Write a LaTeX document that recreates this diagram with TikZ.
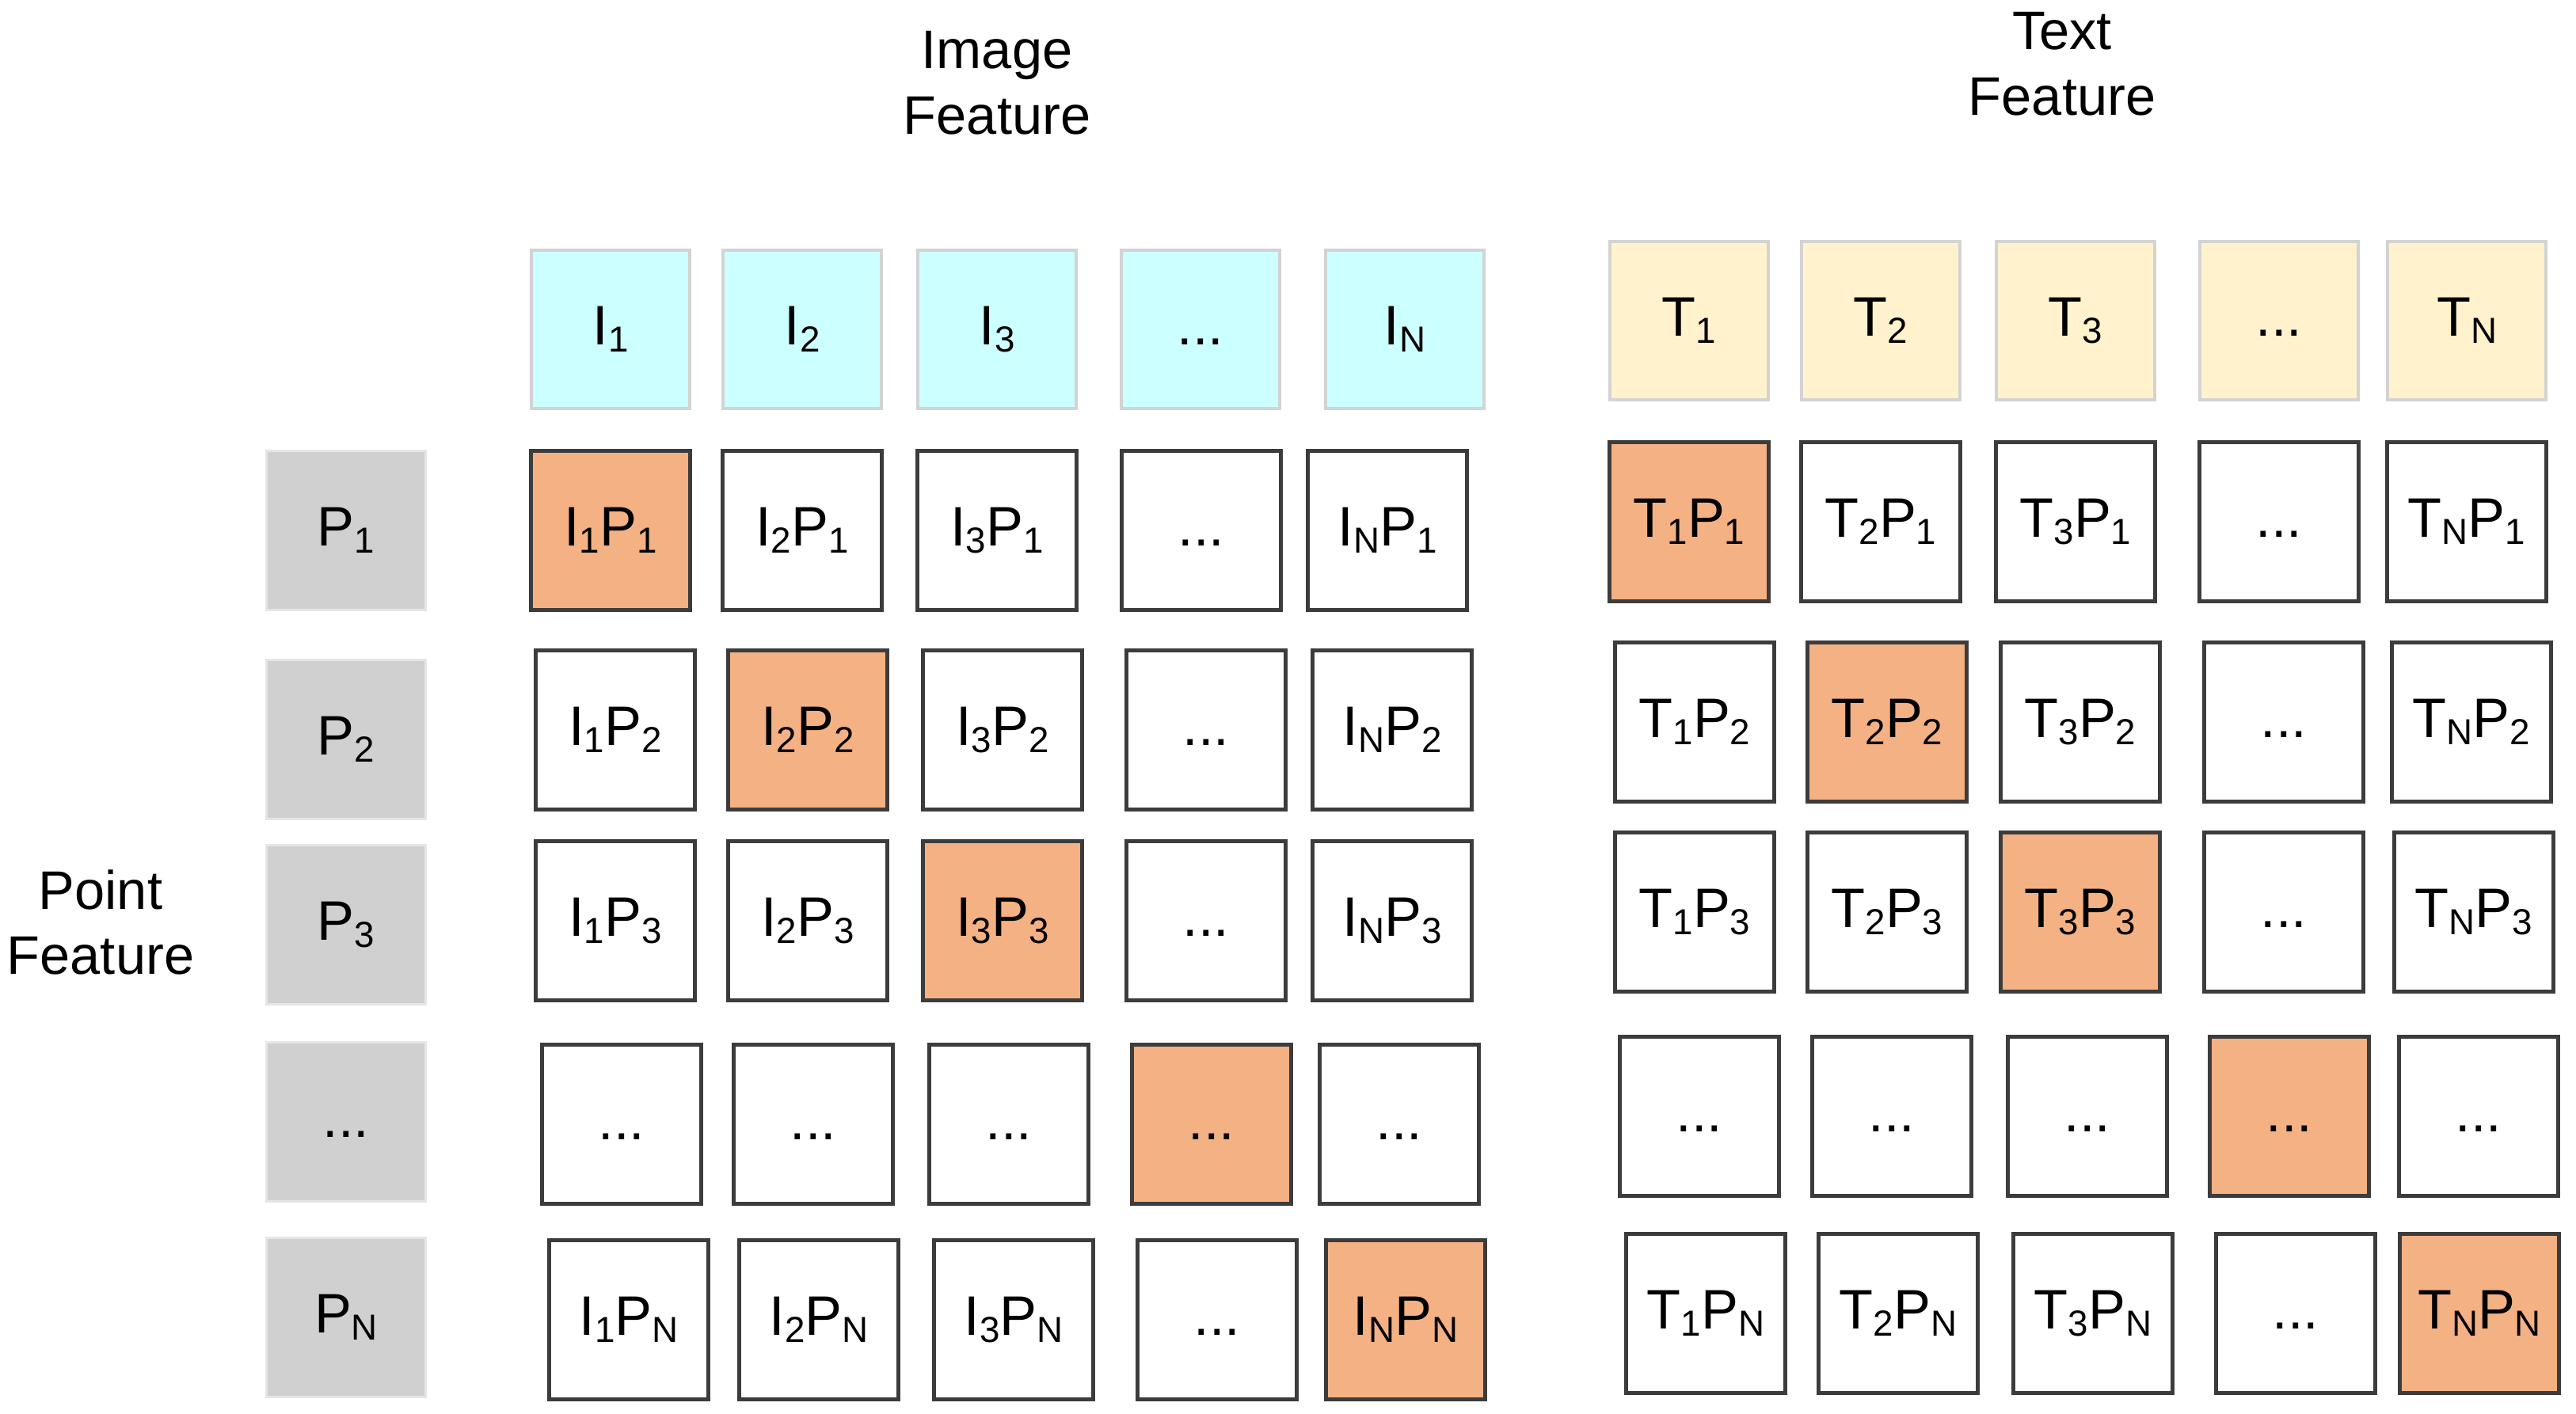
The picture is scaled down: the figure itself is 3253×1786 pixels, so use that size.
\documentclass[tikz,border=0pt]{standalone}
\usepackage{fontspec}
\setmainfont{Liberation Sans}
\definecolor{hdrcyan}{HTML}{CCFFFF}
\definecolor{hdryel}{HTML}{FFF2CC}
\definecolor{pgray}{HTML}{D0D0D0}
\definecolor{cellor}{HTML}{F4B183}
\definecolor{hdrline}{HTML}{D3D3D3}
\definecolor{pline}{HTML}{E6E6E6}
\definecolor{cellline}{HTML}{3C3C3C}
\newcommand\sbx[1]{\raisebox{-0.09cm}{\fontsize{13}{13}\selectfont #1}}
\newcommand\lab[1]{\ifcase#1\or 1\or 2\or 3\or\or N\fi}
\newcommand\dts{\vphantom{I\sbx{1}}...}
\begin{document}
\begin{tikzpicture}[x=0.01cm,y=-0.01cm,
  box/.style={minimum width=2.0cm, minimum height=2.0cm, inner sep=0pt, font=\fontsize{20}{23}\selectfont},
  ihdr/.style={box, fill=hdrcyan, draw=hdrline, line width=0.04cm},
  thdr/.style={box, fill=hdryel, draw=hdrline, line width=0.04cm},
  pbox/.style={box, fill=pgray, draw=pline, line width=0.03cm},
  cell/.style={box, draw=cellline, line width=0.05cm},
  lbl/.style={align=center, inner sep=0pt, font=\fontsize{19.5}{23.5}\selectfont}]
\path[use as bounding box] (0,0) rectangle (3253,1786);

% titles
\node[lbl] (imgf) at (1259,105) {Image\\Feature};
\node[lbl] (txtf) at (2604,81) {Text\\Feature};
\node[lbl] (ptf) at (127,1165) {Point\\Feature};

% image header
\foreach \c/\x in {1/771,2/1013,3/1259,4/1516,5/1774}{
  \node[ihdr] (i\c) at (\x,416) {\ifnum\c=4 \dts\else I\sbx{\lab\c}\fi};
}
% text header
\foreach \c/\x in {1/2133,2/2375,3/2621,4/2878,5/3115}{
  \node[thdr] (t\c) at (\x,405) {\ifnum\c=4 \dts\else T\sbx{\lab\c}\fi};
}
% point column
\foreach \r/\y in {1/670,2/934,3/1168,4/1417,5/1664}{
  \node[pbox] (p\r) at (437,\y) {\ifnum\r=4 \dts\else P\sbx{\lab\r}\fi};
}

% image x point matrix
\foreach \r/\y/\xa/\xb/\xc/\xd/\xe in {
  1/670/771/1013/1259/1517/1752,
  2/922/777/1020/1266/1523/1758,
  3/1163/777/1020/1266/1523/1758,
  4/1420/785/1027/1274/1530/1767,
  5/1667/794/1034/1280/1537/1775}{
  \foreach \c/\x in {1/\xa,2/\xb,3/\xc,4/\xd,5/\xe}{
    \ifnum\r=\c \def\fc{cellor}\else\def\fc{white}\fi
    \node[cell, fill=\fc] (ip\r\c) at (\x,\y)
      {\ifnum\c=4 \dts\else\ifnum\r=4 \dts\else I\sbx{\lab\c}P\sbx{\lab\r}\fi\fi};
  }
}

% text x point matrix
\foreach \r/\y/\xa/\xb/\xc/\xd/\xe in {
  1/659/2133/2375/2621/2878/3115,
  2/912/2140/2383/2627/2884/3121,
  3/1152/2140/2383/2627/2884/3124,
  4/1410/2146/2389/2636/2891/3130,
  5/1659/2154/2397/2643/2899/3131}{
  \foreach \c/\x in {1/\xa,2/\xb,3/\xc,4/\xd,5/\xe}{
    \ifnum\r=\c \def\fc{cellor}\else\def\fc{white}\fi
    \node[cell, fill=\fc] (tp\r\c) at (\x,\y)
      {\ifnum\c=4 \dts\else\ifnum\r=4 \dts\else T\sbx{\lab\c}P\sbx{\lab\r}\fi\fi};
  }
}
\end{tikzpicture}
\end{document}
